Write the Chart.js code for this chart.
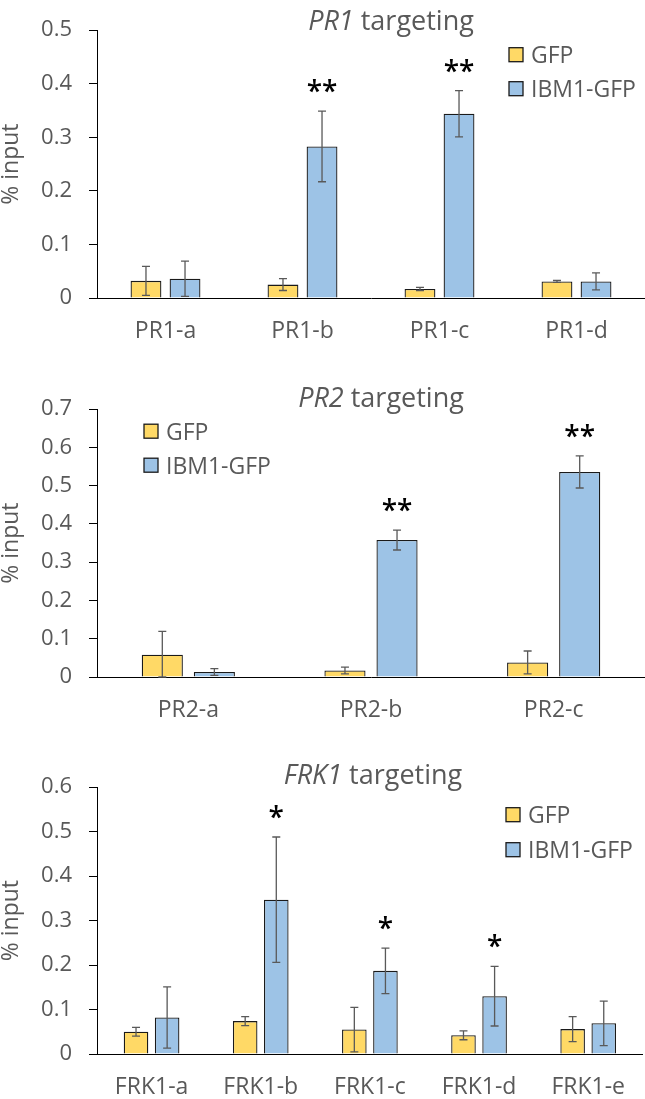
<!DOCTYPE html>
<html>
<head>
<meta charset="utf-8">
<script src="https://cdn.jsdelivr.net/npm/chart.js@4.4.1/dist/chart.umd.min.js"></script>
<style>
  html, body { margin: 0; padding: 0; background: #fff; }
  .panel { position: absolute; left: 0; width: 645px; }
</style>
</head>
<body>
<div class="panel" style="top:0;height:350px"><canvas id="pr1"></canvas></div>
<div class="panel" style="top:379px;height:350px"><canvas id="pr2"></canvas></div>
<div class="panel" style="top:757px;height:342px"><canvas id="frk1"></canvas></div>
<script>
// PR1 panel
const pr1Labels = ['PR1-a', 'PR1-b', 'PR1-c', 'PR1-d'];
const pr1Gfp = [0.032, 0.025, 0.017, 0.031];
const pr1GfpErr = [0.027, 0.011, 0.003, 0.002];
const pr1Ibm1 = [0.036, 0.283, 0.344, 0.031];
const pr1Ibm1Err = [0.033, 0.066, 0.043, 0.016];
const pr1Stars = ['', '**', '**', ''];

// PR2 panel
const pr2Labels = ['PR2-a', 'PR2-b', 'PR2-c'];
const pr2Gfp = [0.058, 0.017, 0.038];
const pr2GfpErr = [0.061, 0.009, 0.030];
const pr2Ibm1 = [0.013, 0.358, 0.536];
const pr2Ibm1Err = [0.009, 0.026, 0.042];
const pr2Stars = ['', '**', '**'];

// FRK1 panel
const frk1Labels = ['FRK1-a', 'FRK1-b', 'FRK1-c', 'FRK1-d', 'FRK1-e'];
const frk1Gfp = [0.050, 0.074, 0.055, 0.042, 0.056];
const frk1GfpErr = [0.010, 0.010, 0.050, 0.010, 0.028];
const frk1Ibm1 = [0.082, 0.347, 0.187, 0.130, 0.069];
const frk1Ibm1Err = [0.069, 0.141, 0.051, 0.067, 0.050];
const frk1Stars = ['', '*', '*', '*', ''];

const textColor = '#595959';
const fontFamily = '"Open Sans", sans-serif';

// error bars: line from value-err to value+err with small caps
const errorBars = {
  id: 'errorBars',
  afterDatasetsDraw(chart) {
    const ctx = chart.ctx;
    const y = chart.scales.y;
    ctx.save();
    ctx.strokeStyle = '#595959';
    ctx.lineWidth = 1.3;
    chart.data.datasets.forEach((ds, i) => {
      chart.getDatasetMeta(i).data.forEach((bar, j) => {
        const v = ds.data[j], e = ds.errors[j];
        const top = y.getPixelForValue(v + e);
        const bot = y.getPixelForValue(Math.max(0, v - e));
        ctx.beginPath();
        ctx.moveTo(bar.x, top); ctx.lineTo(bar.x, bot);
        ctx.moveTo(bar.x - 4, top); ctx.lineTo(bar.x + 4, top);
        ctx.moveTo(bar.x - 4, bot); ctx.lineTo(bar.x + 4, bot);
        ctx.stroke();
      });
    });
    ctx.restore();
  }
};

// significance stars above the IBM1-GFP error bars
const stars = {
  id: 'stars',
  afterDatasetsDraw(chart) {
    const ctx = chart.ctx;
    const y = chart.scales.y;
    ctx.save();
    ctx.fillStyle = '#000';
    ctx.font = '600 28px ' + fontFamily;
    ctx.textAlign = 'center';
    ctx.textBaseline = 'alphabetic';
    chart.data.datasets.forEach((ds, i) => {
      if (!ds.stars) return;
      chart.getDatasetMeta(i).data.forEach((bar, j) => {
        const s = ds.stars[j];
        if (!s) return;
        const m = ctx.measureText(s);
        const cy = y.getPixelForValue(ds.data[j] + ds.errors[j]) - 25;
        ctx.fillText(s, bar.x, cy + (m.actualBoundingBoxAscent - m.actualBoundingBoxDescent) / 2);
      });
    });
    ctx.restore();
  }
};

// title with italic gene name + manual legend
const panelText = {
  id: 'panelText',
  afterDraw(chart, args, opts) {
    const ctx = chart.ctx;
    const area = chart.chartArea;
    ctx.save();
    ctx.fillStyle = textColor;
    ctx.textBaseline = 'alphabetic';
    ctx.textAlign = 'left';

    // title
    const fItal = 'italic 27px ' + fontFamily;
    const fNorm = '27px ' + fontFamily;
    ctx.font = fItal;
    const w1 = ctx.measureText(opts.gene).width;
    ctx.font = fNorm;
    const w2 = ctx.measureText(' targeting').width;
    const x0 = opts.titleX - (w1 + w2) / 2;
    const base = area.top + opts.titleBase;
    ctx.font = fItal;
    ctx.fillText(opts.gene, x0, base);
    ctx.font = fNorm;
    ctx.fillText(' targeting', x0 + w1, base);

    // legend
    ctx.font = '23px ' + fontFamily;
    const lcap = ctx.measureText('G').actualBoundingBoxAscent;
    chart.data.datasets.forEach((ds, i) => {
      const cy = area.top + opts.legendDy[i];
      ctx.fillStyle = ds.backgroundColor;
      ctx.fillRect(opts.legendX, cy - 7, 14, 14);
      ctx.strokeStyle = '#1a1a1a';
      ctx.lineWidth = 1.3;
      ctx.strokeRect(opts.legendX, cy - 7, 14, 14);
      ctx.fillStyle = textColor;
      ctx.fillText(ds.label, opts.legendX + 22, cy + lcap / 2);
    });
    ctx.restore();
  }
};

function makePanel(id, labels, gfp, gfpErr, ibm1, ibm1Err, starMarks, yMax, look) {
  return new Chart(document.getElementById(id), {
    type: 'bar',
    data: {
      labels: labels,
      datasets: [
        {
          label: 'GFP',
          data: gfp,
          errors: gfpErr,
          backgroundColor: '#FFD966',
          borderColor: '#1a1a1a',
          borderWidth: 1.3
        },
        {
          label: 'IBM1-GFP',
          data: ibm1,
          errors: ibm1Err,
          stars: starMarks,
          backgroundColor: '#9DC3E6',
          borderColor: '#1a1a1a',
          borderWidth: 1.3
        }
      ]
    },
    options: {
      responsive: true,
      maintainAspectRatio: false,
      animation: false,
      layout: { padding: { top: 23, left: 0, right: 0, bottom: 0 } },
      datasets: { bar: { categoryPercentage: 0.57, barPercentage: 0.79 } },
      plugins: {
        legend: { display: false },
        tooltip: { enabled: false },
        panelText: look
      },
      scales: {
        x: {
          grid: { display: false, drawTicks: false },
          border: { color: '#000', width: 1 },
          ticks: { color: textColor, font: { family: fontFamily, size: 23 }, padding: 20 },
          afterFit(s) { s.height = look.xHeight; }
        },
        y: {
          min: 0,
          max: yMax,
          ticks: { stepSize: 0.1, color: textColor, font: { family: fontFamily, size: 22 }, padding: 17 },
          grid: { drawOnChartArea: false, drawTicks: true, tickLength: 8, color: '#000' },
          border: { color: '#000', width: 1 },
          title: {
            display: true,
            text: '% input',
            color: textColor,
            font: { family: fontFamily, size: 23, lineHeight: 1 },
            padding: 0
          },
          afterFit(s) { s.width = 97; }
        }
      }
    },
    plugins: [errorBars, stars, panelText]
  });
}

makePanel('pr1', pr1Labels, pr1Gfp, pr1GfpErr, pr1Ibm1, pr1Ibm1Err, pr1Stars, 0.5,
  { gene: 'PR1', titleX: 391, titleBase: 0, legendX: 509, legendDy: [24.5, 58.5], xHeight: 52 });
makePanel('pr2', pr2Labels, pr2Gfp, pr2GfpErr, pr2Ibm1, pr2Ibm1Err, pr2Stars, 0.7,
  { gene: 'PR2', titleX: 381, titleBase: -2, legendX: 144, legendDy: [22, 56], xHeight: 52 });
makePanel('frk1', frk1Labels, frk1Gfp, frk1GfpErr, frk1Ibm1, frk1Ibm1Err, frk1Stars, 0.6,
  { gene: 'FRK1', titleX: 373, titleBase: -3, legendX: 506, legendDy: [27.5, 62.5], xHeight: 45 });
</script>
</body>
</html>
